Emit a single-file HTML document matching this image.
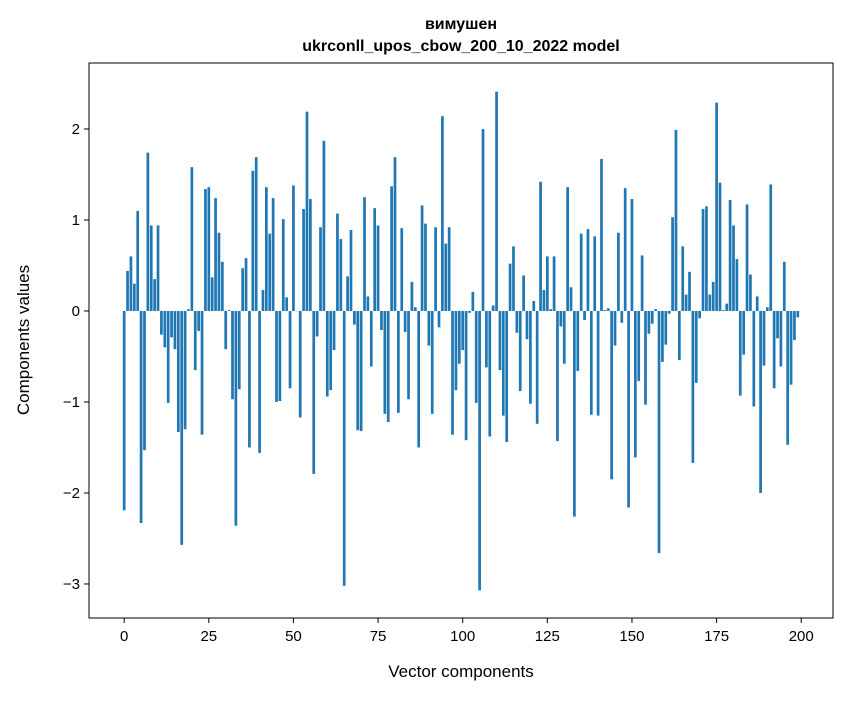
<!DOCTYPE html>
<html><head><meta charset="utf-8"><style>
body{margin:0;background:#fff;}
svg text{font-family:"Liberation Sans","DejaVu Sans",sans-serif;fill:#000;}
</style></head><body>
<svg id="chart" width="847" height="696" xmlns="http://www.w3.org/2000/svg">
<rect width="847" height="696" fill="#fff"/>
<text x="461" y="29" text-anchor="middle" font-size="16" font-weight="bold">вимушен</text>
<text x="461" y="51" text-anchor="middle" font-size="16" font-weight="bold">ukrconll_upos_cbow_200_10_2022 model</text>
<g id="bars"></g>
<g id="xticks"></g>
<g id="yticks"></g>
<rect x="89" y="63" width="744" height="555" fill="none" stroke="#000" stroke-width="1"/>
<text x="461" y="677" text-anchor="middle" font-size="17">Vector components</text>
<text x="29" y="340" text-anchor="middle" font-size="17" transform="rotate(-90 29 340)">Components values</text>
</svg>
<script>
const values = [
-2.19,0.44,0.60,0.30,1.10,-2.33,-1.53,1.74,0.94,0.35,
0.94,-0.26,-0.40,-1.01,-0.29,-0.42,-1.33,-2.57,-1.30,0.02,
1.58,-0.65,-0.22,-1.36,1.34,1.36,0.37,1.24,0.86,0.54,
-0.42,0.01,-0.97,-2.36,-0.86,0.47,0.58,-1.50,1.54,1.69,
-1.56,0.23,1.36,0.85,1.24,-1.00,-0.99,1.01,0.15,-0.85,
1.38,0.00,-1.17,1.12,2.19,1.23,-1.79,-0.28,0.92,1.87,
-0.94,-0.87,-0.43,1.07,0.79,-3.02,0.38,0.89,-0.15,-1.31,
-1.32,1.25,0.16,-0.61,1.13,0.94,-0.21,-1.13,-1.22,1.37,
1.69,-1.12,0.91,-0.23,-0.97,0.32,0.04,-1.50,1.16,0.96,
-0.38,-1.13,0.92,-0.18,2.14,0.74,0.92,-1.36,-0.87,-0.58,
-0.43,-1.42,-0.02,0.21,-1.01,-3.07,2.00,-0.62,-1.38,0.06,
2.41,-0.65,-1.15,-1.44,0.52,0.71,-0.24,-0.88,0.39,-0.31,
-1.02,0.11,-1.24,1.42,0.23,0.60,0.02,0.60,-1.43,-0.17,
-0.58,1.36,0.26,-2.26,-0.66,0.85,-0.10,0.90,-1.14,0.82,
-1.15,1.67,0.01,0.03,-1.85,-0.38,0.86,-0.13,1.35,-2.16,
1.23,-1.61,-0.77,0.61,-1.03,-0.25,-0.14,0.02,-2.66,-0.56,
-0.37,-0.03,1.03,1.99,-0.54,0.71,0.18,0.43,-1.67,-0.79,
-0.08,1.12,1.15,0.18,0.32,2.29,1.41,0.01,0.08,1.22,
0.94,0.57,-0.93,-0.48,1.17,0.40,-1.05,0.16,-2.00,-0.60,
0.04,1.39,-0.85,-0.30,-0.61,0.54,-1.47,-0.81,-0.32,-0.07
];
const xTickLabels = [0,25,50,75,100,125,150,175,200];
const yTickLabels = [-3,-2,-1,0,1,2];
const yLimits = [-3.374, 2.725];

const NS = "http://www.w3.org/2000/svg";
const L=89,R=833,T=63,B=618;
const n = values.length;
const xmin=-0.4, xmax=n-1+0.4, xm=(xmax-xmin)*0.05;
const X0=xmin-xm, X1=xmax+xm;
const Y0=Math.min(yLimits[0],Math.min(...values)-0.05), Y1=Math.max(yLimits[1],Math.max(...values)+0.05);
function xs(v){return L+(v-X0)/(X1-X0)*(R-L);}
function ys(v){return B-(v-Y0)/(Y1-Y0)*(B-T);}

const bars=document.getElementById('bars');
values.forEach((v,i)=>{
  const r=document.createElementNS(NS,'rect');
  const x=xs(i-0.4), w=xs(i+0.4)-x;
  const y=Math.min(ys(v),ys(0)), h=Math.abs(ys(v)-ys(0));
  r.setAttribute('x',x);r.setAttribute('y',y);r.setAttribute('width',w);r.setAttribute('height',Math.max(h,0.3));
  r.setAttribute('fill','#1f77b4');
  
  
  bars.appendChild(r);
});
const xt=document.getElementById('xticks');
xTickLabels.forEach(t=>{
  const x=xs(t);
  const l=document.createElementNS(NS,'line');
  l.setAttribute('x1',x);l.setAttribute('x2',x);l.setAttribute('y1',B);l.setAttribute('y2',B+5);l.setAttribute('stroke','#000');
  
  
  xt.appendChild(l);
  const tx=document.createElementNS(NS,'text');
  tx.setAttribute('x',x);tx.setAttribute('y',B+23);tx.setAttribute('text-anchor','middle');tx.setAttribute('font-size','15');
  tx.textContent=t;
  
  
  xt.appendChild(tx);
});
const yt=document.getElementById('yticks');
yTickLabels.forEach(t=>{
  const y=ys(t);
  const l=document.createElementNS(NS,'line');
  l.setAttribute('x1',L-5);l.setAttribute('x2',L);l.setAttribute('y1',y);l.setAttribute('y2',y);l.setAttribute('stroke','#000');
  
  
  yt.appendChild(l);
  const tx=document.createElementNS(NS,'text');
  tx.setAttribute('x',L-9);tx.setAttribute('y',y+5);tx.setAttribute('text-anchor','end');tx.setAttribute('font-size','15');
  tx.textContent=t<0?'\u2212'+(-t):String(t);
  
  
  yt.appendChild(tx);
});
</script>
</body></html>
